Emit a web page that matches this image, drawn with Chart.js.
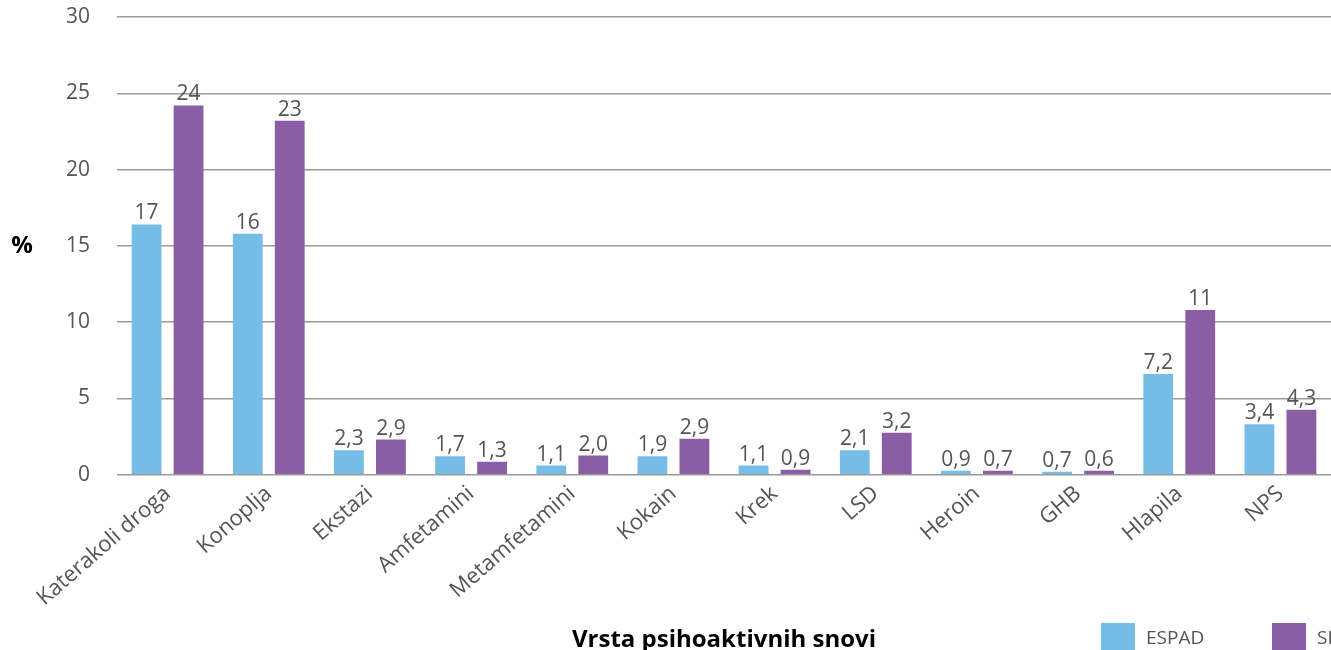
<!DOCTYPE html>
<html>
<head>
<meta charset="utf-8">
<script src="https://cdn.jsdelivr.net/npm/chart.js@4.4.1/dist/chart.umd.min.js"></script>
<style>
  body { margin: 0; overflow: hidden; background: #fff; font-family: "Open Sans", sans-serif; }
  #wrap { position: relative; width: 1331px; height: 655px; }
  .legend { position: absolute; top: 623px; display: flex; align-items: center; font-size: 19px; color: #555; }
  .legend span.box { display: inline-block; width: 34px; height: 27px; margin-right: 11px; }
</style>
</head>
<body>
<div id="wrap">
  <canvas id="myBarChart"></canvas>
  <div class="legend" style="left:1101px"><span class="box" style="background:#75bde7"></span>ESPAD</div>
  <div class="legend" style="left:1272px"><span class="box" style="background:#8a5da5"></span>SI</div>
</div>
<script>
const categories = ["Katerakoli droga", "Konoplja", "Ekstazi", "Amfetamini", "Metamfetamini", "Kokain",
  "Krek", "LSD", "Heroin", "GHB", "Hlapila", "NPS"];

// bar heights as drawn
const espadValues = [16.4, 15.8, 1.6, 1.2, 0.6, 1.2, 0.6, 1.6, 0.26, 0.2, 6.6, 3.3];
const siValues = [24.2, 23.2, 2.3, 0.85, 1.25, 2.35, 0.33, 2.75, 0.26, 0.26, 10.8, 4.25];

// printed value labels
const espadLabels = ["17", "16", "2,3", "1,7", "1,1", "1,9", "1,1", "2,1", "0,9", "0,7", "7,2", "3,4"];
const siLabels = ["24", "23", "2,9", "1,3", "2,0", "2,9", "0,9", "3,2", "0,7", "0,6", "11", "4,3"];

const yTicks = [0, 5, 10, 15, 20, 25, 30];

const FONT = "'Open Sans', sans-serif";

// value labels on top of bars + the "%" unit at the left
const labelPlugin = {
  id: "labels",
  afterDatasetsDraw(chart) {
    const ctx = chart.ctx;
    ctx.save();
    ctx.font = `21px ${FONT}`;
    ctx.fillStyle = "#555555";
    ctx.textAlign = "center";
    ctx.textBaseline = "alphabetic";
    chart.data.datasets.forEach((ds, i) => {
      chart.getDatasetMeta(i).data.forEach((bar, j) => {
        ctx.fillText(ds.valueLabels[j], bar.x, bar.y - 5);
      });
    });
    ctx.font = `bold 24px ${FONT}`;
    ctx.fillStyle = "#000000";
    ctx.textBaseline = "middle";
    ctx.fillText("%", 22, 246);
    ctx.restore();
  }
};

new Chart(document.getElementById("myBarChart"), {
  type: "bar",
  data: {
    labels: categories,
    datasets: [
      { label: "ESPAD", data: espadValues, valueLabels: espadLabels, backgroundColor: "#75bde7" },
      { label: "SI", data: siValues, valueLabels: siLabels, backgroundColor: "#8a5da5" }
    ]
  },
  options: {
    responsive: true,
    maintainAspectRatio: false,
    animation: false,
    categoryPercentage: 0.83,
    barPercentage: 0.71,
    layout: { padding: { top: 17, right: 0, left: 0, bottom: 0 } },
    plugins: { legend: { display: false }, tooltip: { enabled: false } },
    scales: {
      x: {
        grid: { display: false, drawTicks: false },
        border: { display: false },
        ticks: {
          autoSkip: false, minRotation: 41, maxRotation: 41, padding: 6,
          color: "#555555", font: { family: FONT, size: 22 }
        },
        title: {
          display: true, text: "Vrsta psihoaktivnih snovi", color: "#000000",
          font: { family: FONT, size: 24, weight: "bold" }, padding: { top: 9, bottom: 0 }
        }
      },
      y: {
        min: 0, max: 30,
        afterBuildTicks: (scale) => { scale.ticks = yTicks.map(v => ({ value: v })); },
        afterFit: (scale) => { scale.width = 117; scale.paddingTop = 0; scale.paddingBottom = 0; },
        grid: { color: "#9a9a9a", lineWidth: 1.5, drawTicks: false },
        border: { display: false },
        ticks: { padding: 27, color: "#555555", font: { family: FONT, size: 21 } }
      }
    }
  },
  plugins: [labelPlugin]
});
</script>
</body>
</html>
